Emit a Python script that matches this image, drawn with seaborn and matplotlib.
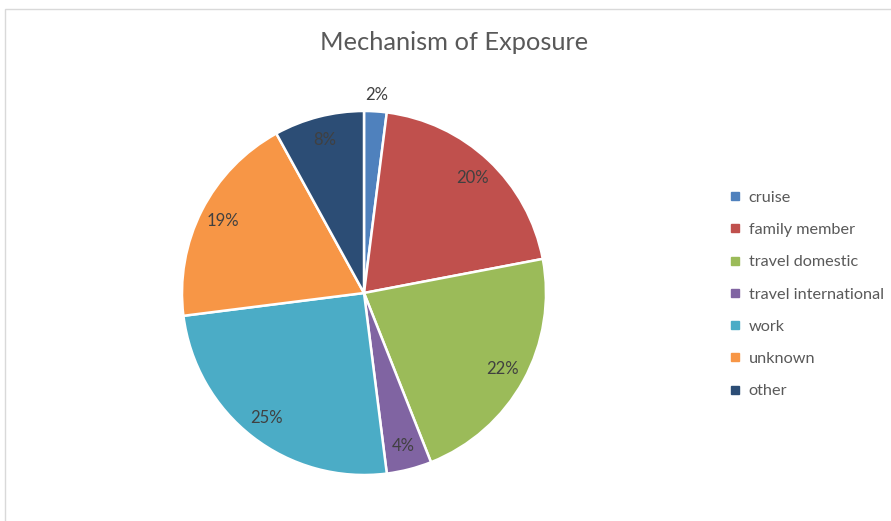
import matplotlib
matplotlib.use("Agg")
import matplotlib.pyplot as plt
from matplotlib.lines import Line2D
from matplotlib.patches import Rectangle
import seaborn as sns
import numpy as np

categories = ["cruise", "family member", "travel domestic", "travel international",
              "work", "unknown", "other"]
shares = [2, 20, 22, 4, 25, 19, 8]
hex_colors = ["#4F81BD", "#C0504D", "#9BBB59", "#8064A2", "#4BACC6", "#F79646", "#2C4D75"]

sns.set_theme(style="white")
plt.rcParams["font.family"] = ["Lato", "DejaVu Sans"]
palette = sns.color_palette(hex_colors)

W, H = 891, 521
fig = plt.figure(figsize=(W / 100, H / 100), dpi=100)
fig.patch.set_facecolor("white")

# chart frame
fig.patches.append(Rectangle((5 / W, -0.05), 1.0, 1 - 9 / H + 0.05, transform=fig.transFigure,
                             fill=False, edgecolor="#D9D9D9", linewidth=1.0))

cx, cy, r = 364, 293, 182
ax = fig.add_axes([(cx - r) / W, (H - cy - r) / H, 2 * r / W, 2 * r / H])
wedges, _ = ax.pie(shares, colors=palette, startangle=90, counterclock=False,
                   radius=1.0, wedgeprops=dict(edgecolor="white", linewidth=1.8))
ax.set_xlim(-1, 1)
ax.set_ylim(-1, 1)
ax.set_aspect("equal")
ax.axis("off")

for w, v in zip(wedges, shares):
    mid = np.deg2rad((w.theta1 + w.theta2) / 2)
    d = 1.09 if v < 3 else 0.87
    ax.text(d * np.cos(mid), d * np.sin(mid), f"{v}%", ha="center", va="center",
            fontsize=12, color="#404040")

fig.text(454 / W, 1 - 43 / H, "Mechanism of Exposure", ha="center", va="center",
         fontsize=18.3, color="#595959")

handles = [Line2D([0], [0], marker="s", linestyle="", markersize=6,
                  markerfacecolor=c, markeredgecolor=c) for c in palette]
leg = fig.legend(handles, categories, loc="upper left",
                 bbox_to_anchor=(722 / W, 1 - 184 / H), frameon=False,
                 fontsize=11.7, labelspacing=1.1, handlelength=0.8,
                 handletextpad=0.45, borderaxespad=0)
for t in leg.get_texts():
    t.set_color("#595959")

fig.savefig("out.png", dpi=100, facecolor="white")
